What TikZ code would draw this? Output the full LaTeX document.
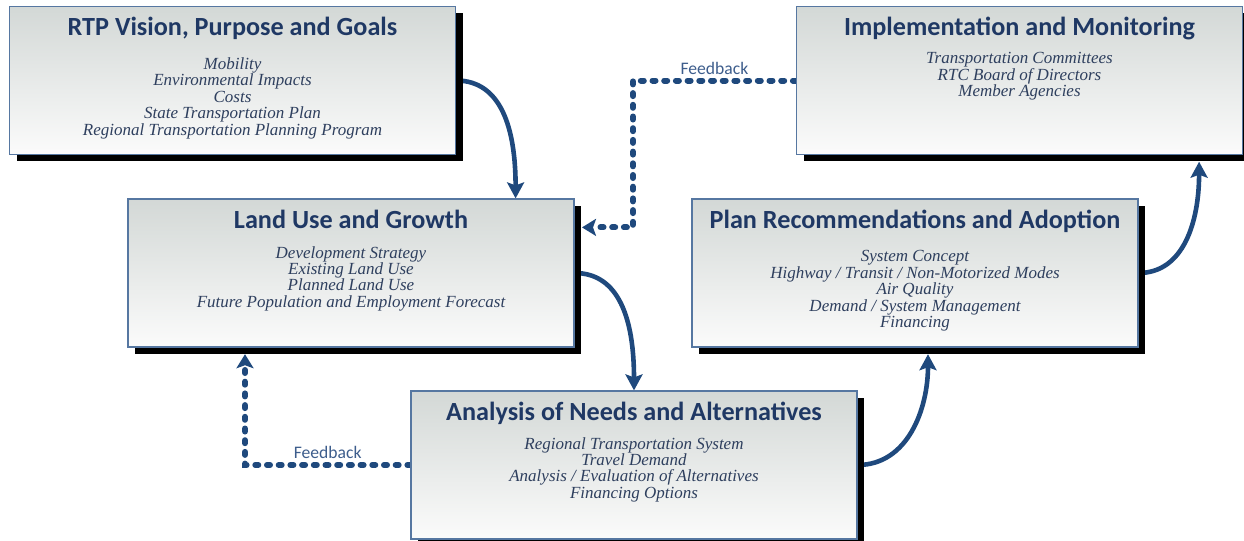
\documentclass[tikz,border=0pt]{standalone}
\usepackage{fontspec}
\usetikzlibrary{positioning,arrows.meta,shadows,backgrounds}
\newfontfamily\headfont{Carlito}
\newfontfamily\listfont{Liberation Serif}
\definecolor{titleblue}{HTML}{1F3864}
\definecolor{listblue}{HTML}{2E3F5E}
\definecolor{arrowblue}{HTML}{1F497D}
\definecolor{fbblue}{HTML}{3D5D8C}
\definecolor{edgeblue}{HTML}{5677A1}
\definecolor{boxtop}{HTML}{D3D8D6}
\definecolor{boxbottom}{HTML}{FBFBFB}
\tikzset{
  stage/.style={draw=edgeblue,line width=0.6pt,top color=boxtop,bottom color=boxbottom,
    minimum width=223pt,minimum height=74pt,inner sep=0pt,
    drop shadow={shadow xshift=3.7pt,shadow yshift=-3.3pt,fill=black,opacity=1}},
  stagetitle/.style={anchor=base,inner sep=0pt,text=titleblue,
    font=\headfont\bfseries\fontsize{13.1}{15}\selectfont},
  stageitems/.style={inner sep=0pt,align=center,text=listblue,
    font=\listfont\itshape\fontsize{8.5}{8.2}\selectfont},
  flow/.style={arrowblue,line width=2.3pt,-{Stealth[width=8.5pt,length=8pt,inset=1.5pt]}},
  feedback/.style={arrowblue,line width=3pt,line cap=round,dash pattern=on 1.5pt off 4.35pt,
    -{Stealth[width=8.5pt,length=7pt,inset=1.5pt]}},
  fblabel/.style={inner sep=0pt,above=1.6pt,text=fbblue,font=\headfont\fontsize{8.8}{10}\selectfont}
}
\begin{document}
\begin{tikzpicture}[x=0.5pt,y=-0.5pt]
  \useasboundingbox (0,0) rectangle (1244,541);
  \node[stage] (goals) at (232.5,80.5) {};
  \node[stage] (landuse) at (351,273) {};
  \node[stage] (analysis) at (634,465) {};
  \node[stage] (plan) at (915,273) {};
  \node[stage] (monitor) at (1019.5,80.5) {};

  \node[stagetitle] (goalstitle) at ([yshift=-15pt]goals.north) {RTP Vision, Purpose and Goals};
  \node[stageitems,below=25.7pt of goals.north] (goalsitems)
    {Mobility\\Environmental Impacts\\Costs\\State Transportation Plan\\Regional Transportation Planning Program};
  \node[stagetitle] (landusetitle) at ([yshift=-15pt]landuse.north) {Land Use and Growth};
  \node[stageitems,below=23.7pt of landuse.north] (landuseitems)
    {Development Strategy\\Existing Land Use\\Planned Land Use\\Future Population and Employment Forecast};
  \node[stagetitle] (analysistitle) at ([yshift=-15pt]analysis.north) {Analysis of Needs and Alternatives};
  \node[stageitems,below=23.2pt of analysis.north] (analysisitems)
    {Regional Transportation System\\Travel Demand\\Analysis / Evaluation of Alternatives\\Financing Options};
  \node[stagetitle] (plantitle) at ([yshift=-15pt]plan.north) {Plan Recommendations and Adoption};
  \node[stageitems,below=25.9pt of plan.north] (planitems)
    {System Concept\\Highway / Transit / Non-Motorized Modes\\Air Quality\\Demand / System Management\\Financing};
  \node[stagetitle] (monitortitle) at ([yshift=-15pt]monitor.north) {Implementation and Monitoring};
  \node[stageitems,below=23.2pt of monitor.north] (monitoritems)
    {Transportation Committees\\RTC Board of Directors\\Member Agencies};

  \begin{scope}[on background layer]
    \draw[flow] (goals.east) .. controls +(45,0) and +(0,-70) .. ([xshift=-29.5pt]landuse.north east);
    \draw[flow] (landuse.east) .. controls +(45,0) and +(0,-70) .. (analysis.north);
    \draw[flow] (analysis.east) .. controls +(50,0) and +(0,55) .. ([xshift=6.5pt,yshift=-3.3pt]plan.south);
    \draw[flow] (plan.east) .. controls +(45,0) and +(0,60) .. ([xshift=-22pt,yshift=-3.3pt]monitor.south east);
    \draw[feedback] (monitor.west) -| node[fblabel,pos=0.25] {Feedback}
      ([xshift=29.2pt,yshift=-14.5pt]landuse.north east) -- ([xshift=3.7pt,yshift=-14.5pt]landuse.north east);
    \draw[feedback] (analysis.west) -| node[fblabel,pos=0.25] {Feedback}
      ([xshift=-53pt,yshift=-3.3pt]landuse.south);
  \end{scope}
\end{tikzpicture}
\end{document}
